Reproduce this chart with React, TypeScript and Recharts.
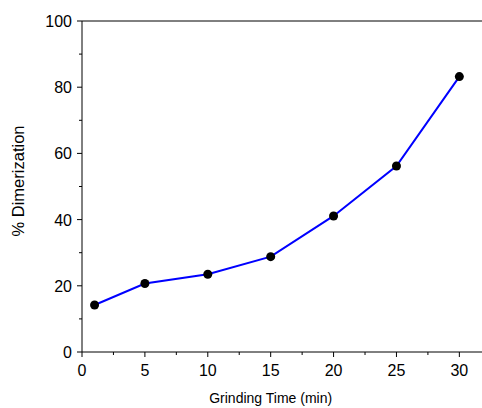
import React from "react";
import {
  LineChart,
  Line,
  XAxis,
  YAxis,
  ReferenceLine,
  Label,
} from "recharts";

// grinding time (min) vs. dimerization (%)
const grindingTimes = [1, 5, 10, 15, 20, 25, 30];
const dimerization = [14.2, 20.7, 23.5, 28.8, 41.1, 56.2, 83.2];

const xTicks = [0, 2.5, 5, 7.5, 10, 12.5, 15, 17.5, 20, 22.5, 25, 27.5, 30];
const yTicks = [0, 10, 20, 30, 40, 50, 60, 70, 80, 90, 100];

const X_MAX = 31.8;
const FONT = "'Liberation Sans', Arial, sans-serif";

const data = grindingTimes.map((t, i) => ({ time: t, dimer: dimerization[i] }));

const XTick = (props: any) => {
  const { x, y, payload } = props;
  const major = payload.value % 5 === 0;
  return (
    <g>
      <line x1={x} x2={x} y1={y} y2={y + (major ? 5 : 3)} stroke="#000" strokeWidth={1} />
      {major && (
        <text x={x} y={y + 24} textAnchor="middle" fontSize={16} fontFamily={FONT} fill="#000">
          {payload.value}
        </text>
      )}
    </g>
  );
};

const YTick = (props: any) => {
  const { x, y, payload } = props;
  const major = payload.value % 20 === 0;
  return (
    <g>
      <line x1={x} x2={x - (major ? 5 : 3)} y1={y} y2={y} stroke="#000" strokeWidth={1} />
      {major && (
        <text x={x - 10} y={y + 6} textAnchor="end" fontSize={16} fontFamily={FONT} fill="#000">
          {payload.value}
        </text>
      )}
    </g>
  );
};

export default function App() {
  return (
    <div style={{ position: "absolute", left: 0, top: 0, background: "#fff" }}>
      <LineChart
        width={482}
        height={408}
        data={data}
        margin={{ top: 21, right: 0, left: 0, bottom: 0 }}
      >
        <XAxis
          dataKey="time"
          type="number"
          domain={[0, X_MAX]}
          ticks={xTicks}
          interval={0}
          tick={<XTick />}
          tickLine={false}
          tickSize={0}
          tickMargin={0}
          height={56}
          axisLine={{ stroke: "#000", strokeWidth: 1 }}
        >
          <Label
            content={({ viewBox }: any) => (
              <text
                x={viewBox.x + (viewBox.width * 15) / X_MAX}
                y={403}
                textAnchor="middle"
                fontSize={14}
                fontFamily={FONT}
                fill="#000"
              >
                Grinding Time (min)
              </text>
            )}
          />
        </XAxis>
        <YAxis
          type="number"
          domain={[0, 100]}
          ticks={yTicks}
          interval={0}
          tick={<YTick />}
          tickLine={false}
          tickSize={0}
          tickMargin={0}
          width={82}
          axisLine={{ stroke: "#000", strokeWidth: 1 }}
        >
          <Label
            content={() => (
              <text
                x={18}
                y={181}
                transform="rotate(-90, 18, 181)"
                textAnchor="middle"
                dominantBaseline="central"
                fontSize={16.5}
                fontFamily={FONT}
                fill="#000"
              >
                % Dimerization
              </text>
            )}
          />
        </YAxis>
        <ReferenceLine y={100} stroke="#000" strokeWidth={1} />
        <Line
          type="linear"
          dataKey="dimer"
          stroke="#0000ff"
          strokeWidth={2}
          dot={{ r: 4.5, fill: "#000", stroke: "none" }}
          activeDot={false}
          isAnimationActive={false}
        />
      </LineChart>
    </div>
  );
}
